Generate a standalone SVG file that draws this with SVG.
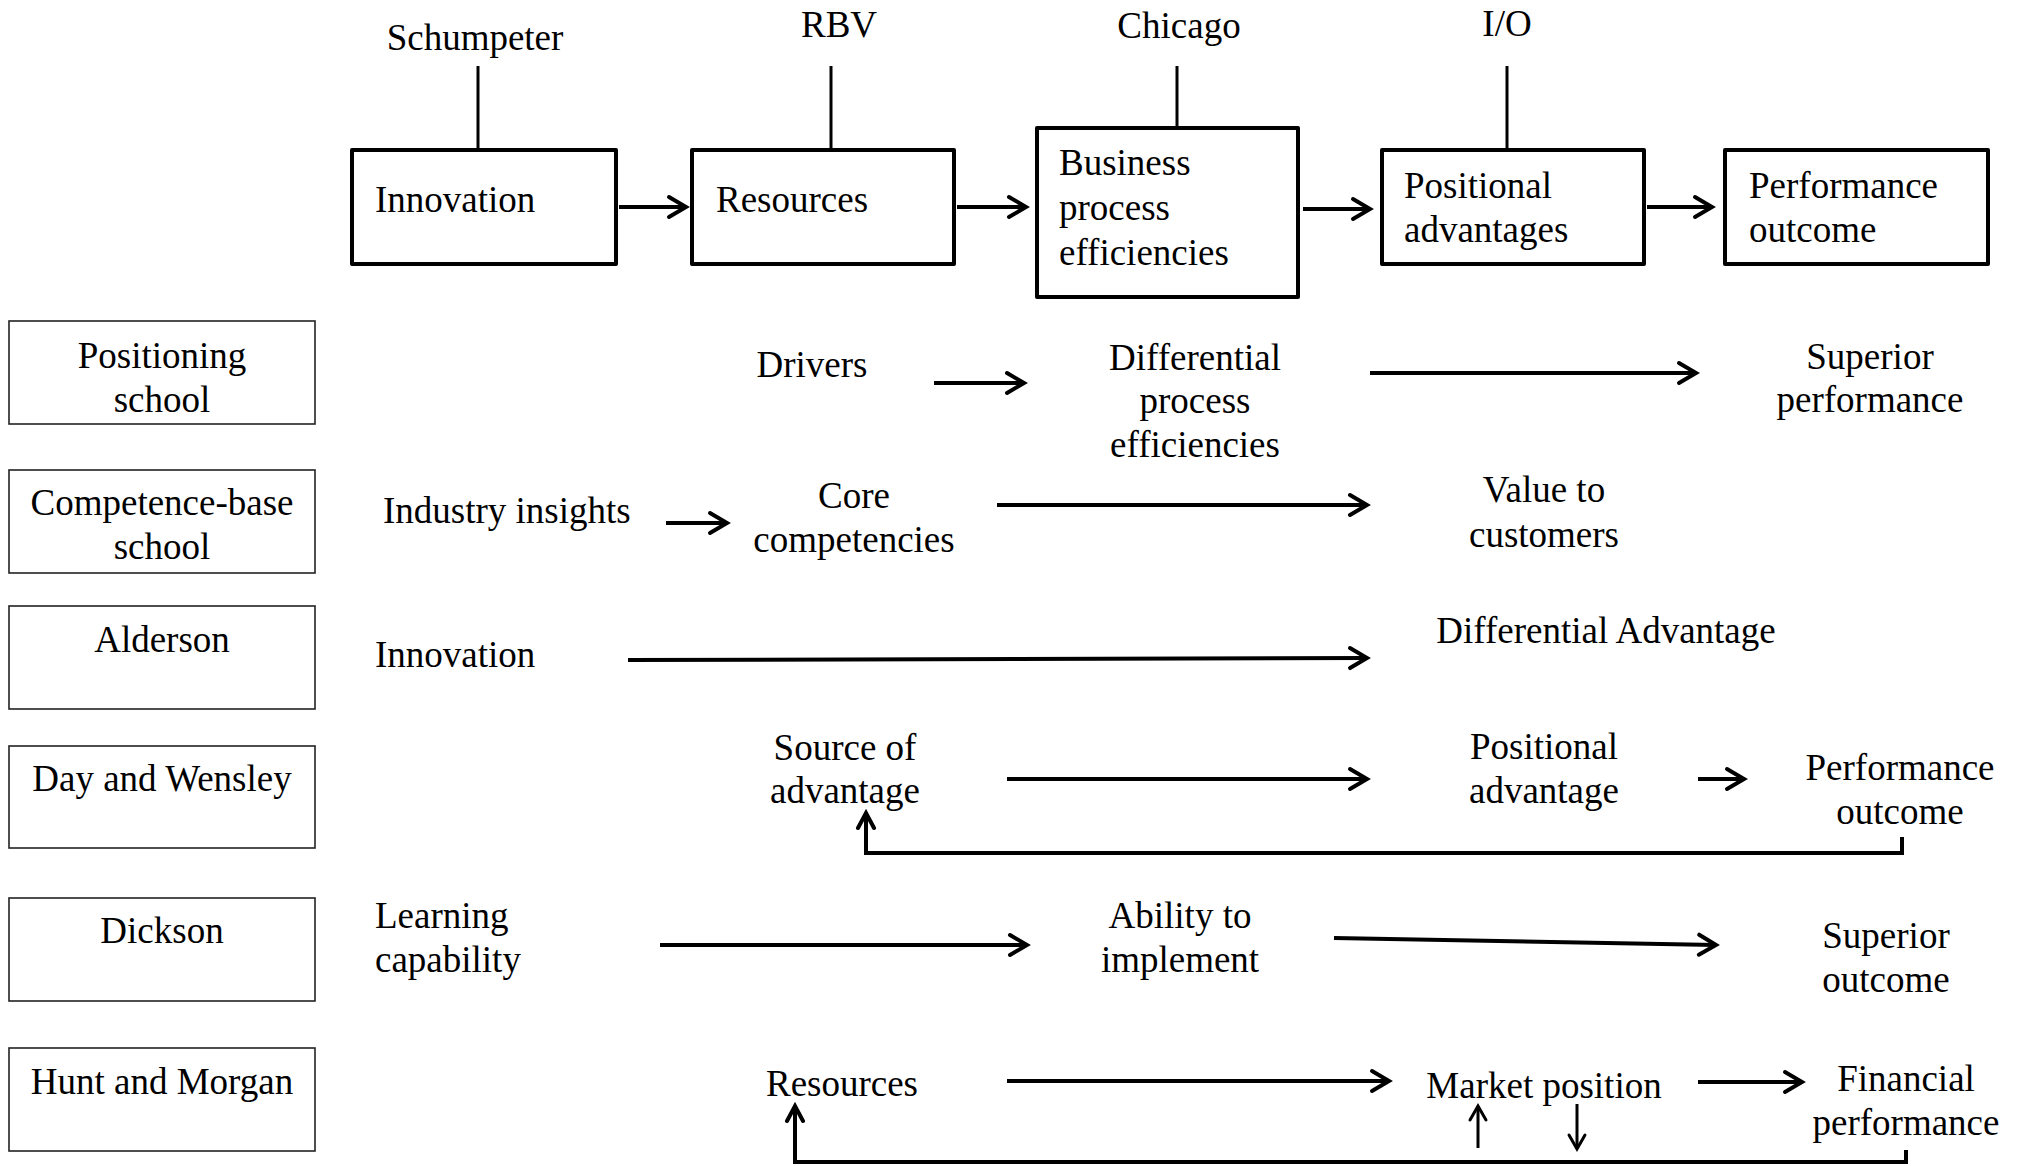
<svg xmlns="http://www.w3.org/2000/svg" width="2022" height="1166" viewBox="0 0 2022 1166">
<style>
text{font-family:"Liberation Serif","Times New Roman",serif;font-size:37px;fill:#000}
.c{text-anchor:middle}
.big{fill:#fff;stroke:#000;stroke-width:4;stroke-linejoin:round}
.sm{fill:#fff;stroke:#222;stroke-width:1.6}
.tick{stroke:#000;stroke-width:3;fill:none}
.ar{stroke:#000;stroke-width:4;fill:none;marker-end:url(#ah)}
.fb{stroke:#000;stroke-width:4;fill:none;stroke-linejoin:miter;marker-end:url(#ah2)}
.th{stroke:#000;stroke-width:3;fill:none;marker-end:url(#ah3)}
</style>
<defs>
<marker id="ah" viewBox="-22 -14 26 28" refX="0" refY="0" markerWidth="26" markerHeight="28" markerUnits="userSpaceOnUse" orient="auto">
<path d="M-17,-10 L0,0 L-17,10" fill="none" stroke="#000" stroke-width="4" stroke-linecap="round"/>
</marker>
<marker id="ah2" viewBox="-22 -14 26 28" refX="0" refY="0" markerWidth="26" markerHeight="28" markerUnits="userSpaceOnUse" orient="auto">
<path d="M-15,-8 L0,0 L-15,8" fill="none" stroke="#000" stroke-width="4" stroke-linecap="round"/>
</marker>
<marker id="ah3" viewBox="-20 -12 24 24" refX="0" refY="0" markerWidth="24" markerHeight="24" markerUnits="userSpaceOnUse" orient="auto">
<path d="M-14,-8 L0,0 L-14,8" fill="none" stroke="#000" stroke-width="3" stroke-linecap="round"/>
</marker>
</defs>
<rect width="2022" height="1166" fill="#fff"/>

<!-- top labels -->
<g id="lbl-schumpeter"><text class="c" x="475" y="50">Schumpeter</text></g>
<g id="lbl-rbv"><text class="c" x="839" y="37">RBV</text></g>
<g id="lbl-chicago"><text class="c" x="1179" y="38">Chicago</text></g>
<g id="lbl-io"><text class="c" x="1507" y="36">I/O</text></g>

<!-- top boxes -->
<g id="box-innovation"><rect class="big" x="352" y="150" width="264" height="114"/><text x="375" y="212">Innovation</text></g>
<g id="box-resources"><rect class="big" x="692" y="150" width="262" height="114"/><text x="716" y="212">Resources</text></g>
<g id="box-business"><rect class="big" x="1037" y="128" width="261" height="169"/><text x="1059" y="175">Business</text><text x="1059" y="220">process</text><text x="1059" y="265">efficiencies</text></g>
<g id="box-positional"><rect class="big" x="1382" y="150" width="262" height="114"/><text x="1404" y="198">Positional</text><text x="1404" y="242">advantages</text></g>
<g id="box-performance"><rect class="big" x="1725" y="150" width="263" height="114"/><text x="1749" y="198">Performance</text><text x="1749" y="242">outcome</text></g>

<!-- left boxes -->
<g id="row-positioning"><rect class="sm" x="9" y="321" width="306" height="103"/><text class="c" x="162" y="368">Positioning</text><text class="c" x="162" y="412">school</text></g>
<g id="row-competence"><rect class="sm" x="9" y="470" width="306" height="103"/><text class="c" x="162" y="515">Competence-base</text><text class="c" x="162" y="559">school</text></g>
<g id="row-alderson"><rect class="sm" x="9" y="606" width="306" height="103"/><text class="c" x="162" y="652">Alderson</text></g>
<g id="row-day"><rect class="sm" x="9" y="746" width="306" height="102"/><text class="c" x="162" y="791">Day and Wensley</text></g>
<g id="row-dickson"><rect class="sm" x="9" y="898" width="306" height="103"/><text class="c" x="162" y="943">Dickson</text></g>
<g id="row-hunt"><rect class="sm" x="9" y="1048" width="306" height="103"/><text class="c" x="162" y="1094">Hunt and Morgan</text></g>

<!-- row 1 -->
<g id="n-drivers"><text class="c" x="812" y="377">Drivers</text></g>
<g id="n-diffproc"><text class="c" x="1195" y="370">Differential</text><text class="c" x="1195" y="413">process</text><text class="c" x="1195" y="457">efficiencies</text></g>
<g id="n-supperf"><text class="c" x="1870" y="369">Superior</text><text class="c" x="1870" y="412">performance</text></g>
<!-- row 2 -->
<g id="n-industry"><text x="383" y="523">Industry insights</text></g>
<g id="n-core"><text class="c" x="854" y="508">Core</text><text class="c" x="854" y="552">competencies</text></g>
<g id="n-value"><text class="c" x="1544" y="502">Value to</text><text class="c" x="1544" y="547">customers</text></g>
<!-- row 3 -->
<g id="n-innov2"><text x="375" y="667">Innovation</text></g>
<g id="n-diffadv"><text class="c" x="1606" y="643">Differential Advantage</text></g>
<!-- row 4 -->
<g id="n-source"><text class="c" x="845" y="760">Source of</text><text class="c" x="845" y="803">advantage</text></g>
<g id="n-posadv"><text class="c" x="1544" y="759">Positional</text><text class="c" x="1544" y="803">advantage</text></g>
<g id="n-perfout"><text class="c" x="1900" y="780">Performance</text><text class="c" x="1900" y="824">outcome</text></g>
<!-- row 5 -->
<g id="n-learning"><text x="375" y="928">Learning</text><text x="375" y="972">capability</text></g>
<g id="n-ability"><text class="c" x="1180" y="928">Ability to</text><text class="c" x="1180" y="972">implement</text></g>
<g id="n-supout"><text class="c" x="1886" y="948">Superior</text><text class="c" x="1886" y="992">outcome</text></g>
<!-- row 6 -->
<g id="n-res2"><text class="c" x="842" y="1096">Resources</text></g>
<g id="n-market"><text class="c" x="1544" y="1098">Market position</text></g>
<g id="n-fin"><text class="c" x="1906" y="1091">Financial</text><text class="c" x="1906" y="1135">performance</text></g>

<g id="connectors">
<line class="tick" x1="478" y1="66" x2="478" y2="150"/>
<line class="tick" x1="831" y1="66" x2="831" y2="150"/>
<line class="tick" x1="1177" y1="66" x2="1177" y2="128"/>
<line class="tick" x1="1507" y1="66" x2="1507" y2="150"/>
<line class="ar" x1="619" y1="207" x2="686" y2="207"/>
<line class="ar" x1="957" y1="207" x2="1026" y2="207"/>
<line class="ar" x1="1303" y1="209" x2="1370" y2="209"/>
<line class="ar" x1="1647" y1="207" x2="1712" y2="207"/>

<line class="ar" x1="934" y1="383" x2="1024" y2="383"/>
<line class="ar" x1="1370" y1="373" x2="1696" y2="373"/>
<line class="ar" x1="666" y1="523" x2="727" y2="523"/>
<line class="ar" x1="997" y1="505" x2="1367" y2="505"/>
<line class="ar" x1="628" y1="660" x2="1367" y2="658"/>
<line class="ar" x1="1007" y1="779" x2="1367" y2="779"/>
<line class="ar" x1="1698" y1="779" x2="1744" y2="779"/>
<polyline class="fb" points="1902,837 1902,853 866,853 866,813"/>
<line class="ar" x1="660" y1="945" x2="1027" y2="945"/>
<line class="ar" x1="1334" y1="938" x2="1716" y2="945"/>
<line class="ar" x1="1007" y1="1081" x2="1389" y2="1081"/>
<line class="ar" x1="1698" y1="1082" x2="1802" y2="1082"/>
<line class="th" x1="1478" y1="1148" x2="1478" y2="1106"/>
<line class="th" x1="1577" y1="1104" x2="1577" y2="1149"/>
<polyline class="fb" points="1906,1150 1906,1162 795,1162 795,1106"/>
</g>
</svg>
